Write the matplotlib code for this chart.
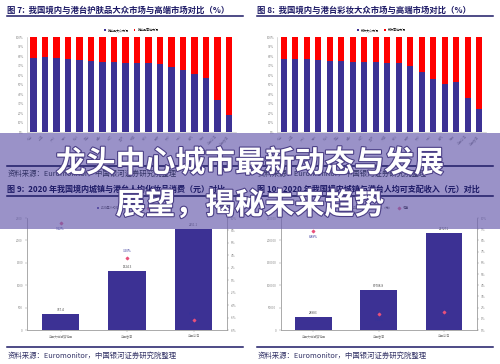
import matplotlib
matplotlib.use("Agg")
import matplotlib.pyplot as plt
import matplotlib.patheffects as pe
from matplotlib.patches import Rectangle
import numpy as np

plt.rcParams['font.family'] = ['Noto Sans CJK SC', 'DejaVu Sans']

# ---- data ----
regions = ['北京', '上海', '广州', '深圳', '杭州', '南京', '成都', '武汉', '重庆',
           '天津', '苏州', '西安', '长沙', '郑州', '青岛', '沈阳', '中国台湾', '中国香港']
skin_mass = [77.4, 78.7, 78.1, 77.1, 75.5, 75.2, 74.2, 73.2, 72.9,
             72.9, 72.9, 71.9, 68.7, 65.2, 61.0, 56.8, 34.2, 18.1]
makeup_mass = [77.1, 76.5, 76.5, 76.1, 75.2, 74.8, 74.2, 74.2, 73.9,
               72.9, 72.6, 70.0, 63.5, 56.1, 50.6, 52.9, 36.1, 24.5]

areas = ['中国大陆城镇地区', '中国香港', '中国台湾']
cosmetic_spend = [357.4, 1324.3, 2251.1]
cosmetic_growth = [9.22, 3.60, -6.39]
income = [28883, 89708.8, 217271.3]
income_growth = [8.88, 1.44, 1.58]

titles = ['图 7:  我国境内与港台护肤品大众市场与高端市场对比（%）',
          '图 8:  我国境内与港台彩妆大众市场与高端市场对比（%）',
          '图 9:  2020 年我国境内城镇与港台人均化妆品消费（元）对比',
          '图 10:  2020 年我国境内城镇与港台人均可支配收入（元）对比']
source = '资料来源：Euromonitor，中国银河证券研究院整理'
headline = ['龙头中心城市最新动态与发展', '展望，揭秘未来趋势']

BLUE = '#3c3194'
RED = '#ff0000'
NAVY = '#1d1a66'
GRAY = '#888888'
W, H = 500, 364

fig = plt.figure(figsize=(5, 3.64), dpi=100)
fig.patch.set_facecolor('white')


def px_axes(x0, x1, y_top, y_bot):
    return fig.add_axes([x0 / W, 1 - y_bot / H, (x1 - x0) / W, (y_bot - y_top) / H])


def stacked(ax, mass, names):
    x = np.arange(len(mass))
    high = [100 - v for v in mass]
    ax.bar(x, mass, width=0.55, color=BLUE, label=names[0])
    ax.bar(x, high, width=0.55, bottom=mass, color=RED, label=names[1])
    ax.set_xlim(-0.6, len(mass) - 0.4)
    ax.set_ylim(0, 100)
    ax.set_yticks(range(0, 101, 10))
    ax.set_yticklabels([f'{v}%' for v in range(0, 101, 10)])
    ax.set_xticks(x)
    ax.set_xticklabels(regions, rotation=45, ha='right')
    ax.tick_params(labelsize=2.2, colors=GRAY, length=0, pad=2)
    for s in ['top', 'right']:
        ax.spines[s].set_visible(False)
    for s in ['left', 'bottom']:
        ax.spines[s].set_color('#bbbbbb')
        ax.spines[s].set_linewidth(0.4)
    ax.legend(loc='lower center', bbox_to_anchor=(0.5, 1.02), ncol=2, fontsize=2.2,
              frameon=False, handlelength=0.6, handleheight=0.6, columnspacing=1.5)


def combo(ax, vals, growth, ylim, gylim, gstep, lab, fmt, below):
    x = np.arange(len(vals))
    ax.bar(x, vals, width=0.56, color=BLUE, label=lab)
    ax.set_xlim(-0.5, len(vals) - 0.5)
    ax.set_ylim(*ylim)
    ax.set_yticks(np.linspace(ylim[0], ylim[1], 6))
    ax.set_yticklabels([f'{int(v)}' for v in np.linspace(ylim[0], ylim[1], 6)])
    ax.set_xticks(x)
    ax.set_xticklabels(areas)
    ax.tick_params(labelsize=2.2, colors=GRAY, length=1.2, width=0.3, pad=2)
    for i, v in enumerate(vals):
        ax.text(i, v + (ylim[1] - ylim[0]) * 0.015, fmt(v), ha='center', va='bottom',
                fontsize=2.2, color='#444444')
    ax2 = ax.twinx()
    ax2.scatter(x, growth, marker='D', s=1.5, color='#e8507a', zorder=5, label='增速')
    ax2.set_ylim(*gylim)
    ticks = np.arange(gylim[0], gylim[1] + 0.01, gstep)
    ax2.set_yticks(ticks)
    ax2.set_yticklabels([f'{int(t)}%' for t in ticks])
    ax2.tick_params(labelsize=2.2, colors=GRAY, length=1.2, width=0.3, pad=2)
    span = gylim[1] - gylim[0]
    for i, g in enumerate(growth):
        off = -span * 0.04 if below[i] else span * 0.04
        ax2.text(i, g + off, f'{g:.2f}%', ha='center', va='top' if below[i] else 'bottom',
                 fontsize=2.2, color='#333399')
    for a in (ax, ax2):
        a.spines['top'].set_visible(False)
        for s in ['left', 'right', 'bottom']:
            a.spines[s].set_color('#999999')
            a.spines[s].set_linewidth(0.4)
    h1, l1 = ax.get_legend_handles_labels()
    h2, l2 = ax2.get_legend_handles_labels()
    ax.legend(h1 + h2, l1 + l2, loc='lower center', bbox_to_anchor=(0.5, 1.05), ncol=2,
              fontsize=2.2, frameon=False, handlelength=0.6, handleheight=0.6)


ax1 = px_axes(26.6, 235.9, 37, 132)
stacked(ax1, skin_mass, ['护肤品大众市场', '护肤品高端市场'])
ax2 = px_axes(276.8, 486.2, 37, 132)
stacked(ax2, makeup_mass, ['彩妆大众市场', '彩妆高端市场'])

ax3 = px_axes(27.3, 226.8, 218, 330)
combo(ax3, cosmetic_spend, cosmetic_growth, (0, 2500), (-8, 10), 2,
      '2020年人均化妆品消费（元）', lambda v: f'{v:.1f}', [True, False, False])
ax4 = px_axes(280.8, 476.7, 218, 330)
combo(ax4, income, income_growth, (0, 250000), (0, 10), 1,
      '2020年人均可支配收入（元）', lambda v: f'{v:g}', [True, True, True])

# ---- page decorations and banner overlay ----
ov = fig.add_axes([0, 0, 1, 1], zorder=20)
ov.set_xlim(0, W)
ov.set_ylim(H, 0)
ov.axis('off')
ov.patch.set_alpha(0)

for x0, t_top, t_bot in [(7, titles[0], titles[2]), (257, titles[1], titles[3])]:
    ov.text(x0, 10, t_top, fontsize=6.0, fontweight='bold', color=NAVY, va='center')
    ov.plot([x0, x0 + 236], [16, 16], color=NAVY, lw=1.1)
    ov.plot([x0, x0 + 236], [166, 166], color=NAVY, lw=1.1)
    ov.text(x0 + 1, 174, source, fontsize=5.3, color='#333366', va='center')
    ov.text(x0, 189, t_bot, fontsize=5.8, fontweight='bold', color=NAVY, va='center')
    ov.plot([x0, x0 + 236], [196, 196], color=NAVY, lw=1.1)
    ov.plot([x0, x0 + 236], [347, 347], color=NAVY, lw=1.1)
    ov.text(x0 + 1, 356, source, fontsize=5.3, color='#333366', va='center')

ov.add_patch(Rectangle((0, 133), W, 96, facecolor='#6a5fae', alpha=0.68, lw=0))
shadow = [pe.withStroke(linewidth=1.6, foreground='#4b3f86')]
ov.text(250, 163, headline[0], fontsize=21.5, fontweight='heavy', color='white',
        ha='center', va='center', path_effects=shadow)
ov.text(250, 205, headline[1], fontsize=21.5, fontweight='heavy', color='white',
        ha='center', va='center', path_effects=shadow)

fig.savefig('out.png', dpi=100)
